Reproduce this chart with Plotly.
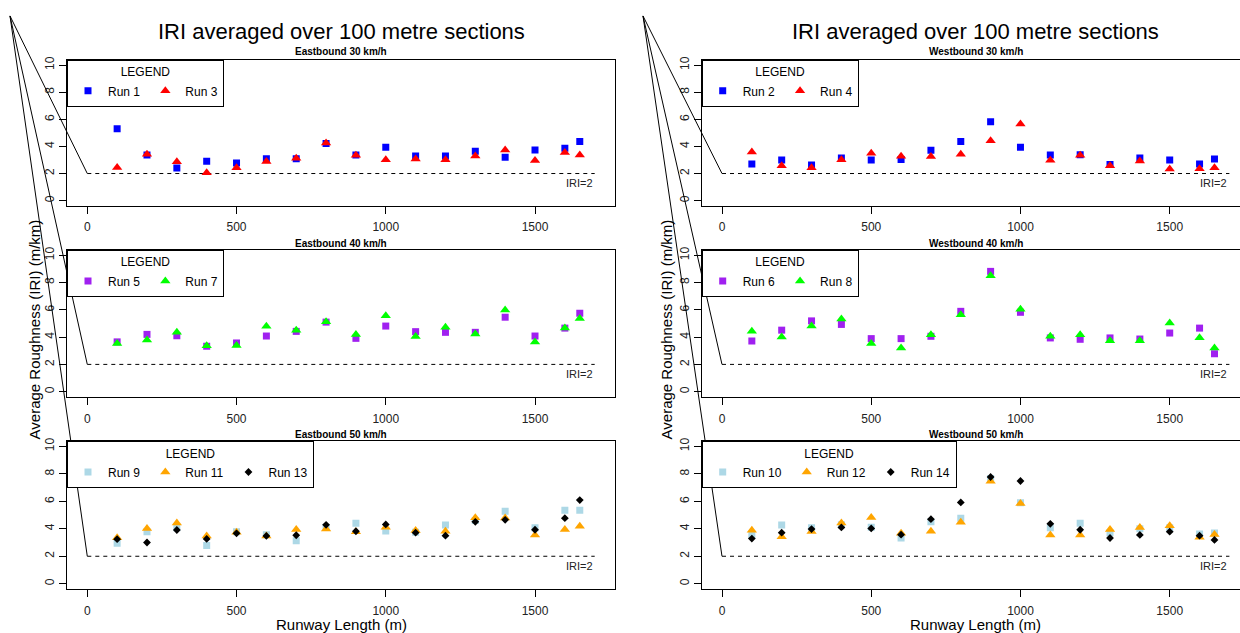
import plotly.graph_objects as go

# ---------------- data ----------------
SECTION_X = [100, 200, 300, 400, 500, 600, 700, 800, 900, 1000,
             1100, 1200, 1300, 1400, 1500, 1600, 1650]

E30_RUN1 = [5.31, 3.36, 2.41, 2.90, 2.78, 3.09, 3.09, 4.22, 3.36, 3.94, 3.29, 3.29, 3.65, 3.21, 3.74, 3.86, 4.37]
E30_RUN3 = [2.45, 3.42, 2.86, 2.06, 2.43, 2.89, 3.13, 4.26, 3.34, 3.01, 3.07, 3.01, 3.30, 3.73, 2.96, 3.56, 3.37]

W30_RUN2 = [2.70, 2.99, 2.63, 3.14, 2.99, 3.04, 3.72, 4.37, 5.82, 3.94, 3.36, 3.38, 2.66, 3.14, 2.99, 2.70, 3.07]
W30_RUN4 = [3.59, 2.57, 2.43, 3.01, 3.49, 3.27, 3.25, 3.42, 4.41, 5.66, 2.98, 3.34, 2.57, 2.93, 2.33, 2.35, 2.43]

E40_RUN5 = [3.65, 4.20, 4.10, 3.33, 3.57, 4.08, 4.42, 5.10, 3.91, 4.81, 4.40, 4.35, 4.35, 5.46, 4.08, 4.66, 5.75]
E40_RUN7 = [3.54, 3.78, 4.36, 3.37, 3.39, 4.80, 4.51, 5.13, 4.19, 5.57, 4.04, 4.72, 4.22, 5.98, 3.64, 4.67, 5.37]

W40_RUN6 = [3.72, 4.51, 5.19, 4.93, 3.89, 3.89, 4.06, 5.89, 8.82, 5.82, 3.94, 3.84, 3.94, 3.86, 4.30, 4.66, 2.78]
W40_RUN8 = [4.43, 4.00, 4.82, 5.33, 3.54, 3.20, 4.17, 5.64, 8.49, 6.05, 4.07, 4.17, 3.73, 3.73, 5.04, 3.95, 3.20]

E50_RUN9 = [2.95, 3.79, 4.08, 2.78, 3.79, 3.57, 3.12, 4.10, 4.41, 3.84, 3.74, 4.27, 4.60, 5.27, 4.08, 5.35, 5.35]
E50_RUN11 = [3.34, 4.02, 4.42, 3.47, 3.75, 3.47, 3.94, 3.99, 3.78, 4.11, 3.87, 3.82, 4.81, 4.78, 3.54, 3.94, 4.18]
E50_RUN13 = [3.24, 3.00, 3.91, 3.26, 3.67, 3.48, 3.53, 4.29, 3.82, 4.32, 3.72, 3.50, 4.51, 4.65, 3.93, 4.77, 6.09]

W50_RUN10 = [3.57, 4.27, 4.08, 4.30, 4.12, 3.33, 4.51, 4.77, 7.67, 5.90, 4.08, 4.41, 3.72, 4.00, 4.08, 3.62, 3.69]
W50_RUN12 = [3.90, 3.42, 3.80, 4.42, 4.83, 3.68, 3.82, 4.47, 7.47, 5.84, 3.54, 3.54, 3.94, 4.09, 4.23, 3.39, 3.59]
W50_RUN14 = [3.29, 3.72, 3.98, 4.10, 4.03, 3.57, 4.70, 5.92, 7.77, 7.48, 4.36, 3.93, 3.33, 3.55, 3.79, 3.50, 3.19]

PANEL_TITLES = ["Eastbound 30 km/h", "Westbound 30 km/h",
                "Eastbound 40 km/h", "Westbound 40 km/h",
                "Eastbound 50 km/h", "Westbound 50 km/h"]
MAIN_TITLE = "IRI averaged over 100 metre sections"
Y_LABEL = "Average Roughness (IRI) (m/km)"
X_LABEL = "Runway Length (m)"
X_TICKS = [0, 500, 1000, 1500]
Y_TICKS = [0, 2, 4, 6, 8, 10]
IRI_LIMIT = 2
IRI_LINE_X = [0, 1700]
IRI_TEXT = "IRI=2"

# (series name, values, style key) per panel
PANELS = [
    [("Run 1", E30_RUN1, "sq_blue"), ("Run 3", E30_RUN3, "tri_red")],
    [("Run 2", W30_RUN2, "sq_blue"), ("Run 4", W30_RUN4, "tri_red")],
    [("Run 5", E40_RUN5, "sq_purple"), ("Run 7", E40_RUN7, "tri_green")],
    [("Run 6", W40_RUN6, "sq_purple"), ("Run 8", W40_RUN8, "tri_green")],
    [("Run 9", E50_RUN9, "sq_lblue"), ("Run 11", E50_RUN11, "tri_orange"), ("Run 13", E50_RUN13, "dia_black")],
    [("Run 10", W50_RUN10, "sq_lblue"), ("Run 12", W50_RUN12, "tri_orange"), ("Run 14", W50_RUN14, "dia_black")],
]

# ---------------- styling / layout ----------------
W, H = 1240, 633
FONT = "Liberation Sans, Arial, Helvetica, sans-serif"

STYLES = {
    "sq_blue": dict(symbol="square", color="#0000FF", size=7),
    "tri_red": dict(symbol="triangle-up", color="#FF0000", size=9),
    "sq_purple": dict(symbol="square", color="#A020F0", size=7),
    "tri_green": dict(symbol="triangle-up", color="#00FF00", size=9),
    "sq_lblue": dict(symbol="square", color="#ADD8E6", size=7),
    "tri_orange": dict(symbol="triangle-up", color="#FFA500", size=9),
    "dia_black": dict(symbol="diamond", color="#000000", size=6),
}

X_SCALE = 548 / 1836.0          # px per data unit
X_RANGE_LEFT = [-68, 1768]
COL_PX = [(67, 615), (701.7, 1240)]
ROW_PX = [(57, 204), (248, 396), (440, 589)]
Y_RANGE = [-0.4, 10.4]
SUB_Y_PX = [49, 242, 434]
LINE_ORIGIN_PX = [(10, 13), (643, 13)]


def fx(px):
    return px / W


def fy(py):
    return 1 - py / H


fig = go.Figure()
layout_axes = {}
shapes = []
annotations = []
legends = {}

for i, series in enumerate(PANELS):
    col, row = i % 2, i // 2
    n = i + 1
    xs = "" if n == 1 else str(n)
    x0p, x1p = COL_PX[col]
    y0p, y1p = ROW_PX[row]
    xr = [X_RANGE_LEFT[0], X_RANGE_LEFT[0] + (x1p - x0p) / X_SCALE]
    xdom = [fx(x0p), fx(x1p)]
    ydom = [fy(y1p), fy(y0p)]
    leg = "legend" if n == 1 else "legend%d" % n

    # reference line IRI = 2
    fig.add_trace(go.Scatter(
        x=IRI_LINE_X, y=[IRI_LIMIT] * len(IRI_LINE_X), mode="lines",
        line=dict(color="black", width=1, dash="4px,4px"),
        showlegend=False, hoverinfo="skip",
        xaxis="x" + xs, yaxis="y" + xs))

    for name, vals, sk in series:
        st = STYLES[sk]
        fig.add_trace(go.Scatter(
            x=SECTION_X, y=vals, mode="markers", name=name,
            marker=dict(symbol=st["symbol"], color=st["color"], size=st["size"],
                        line=dict(width=0)),
            legend=leg, xaxis="x" + xs, yaxis="y" + xs))

    layout_axes["xaxis" + xs] = dict(
        domain=xdom, range=xr, anchor="y" + xs,
        showline=True, linecolor="black", linewidth=1, mirror=True,
        ticks="outside", ticklen=7, tickcolor="black", tickwidth=1,
        tickvals=X_TICKS, showgrid=False, zeroline=False,
        tickfont=dict(family=FONT, size=12, color="#222"),
        ticklabelstandoff=3, fixedrange=True)
    layout_axes["yaxis" + xs] = dict(
        domain=ydom, range=Y_RANGE, anchor="x" + xs,
        showline=True, linecolor="black", linewidth=1, mirror=(col == 0),
        ticks="outside", ticklen=7, tickcolor="black", tickwidth=1,
        tickvals=Y_TICKS, tickangle=-90, showgrid=False, zeroline=False,
        tickfont=dict(family=FONT, size=12, color="#222"),
        ticklabelstandoff=0, fixedrange=True)

    legends[leg] = dict(
        x=xdom[0], xanchor="left", y=ydom[1], yanchor="top",
        orientation="h", bgcolor="white", bordercolor="black", borderwidth=1,
        font=dict(family=FONT, size=12, color="black"),
        title=dict(text="LEGEND", side="top center",
                   font=dict(family=FONT, size=12, color="black")),
        tracegroupgap=0, itemwidth=30)

    # panel subtitle
    annotations.append(dict(
        text="<b>%s</b>" % PANEL_TITLES[i], xref="paper", yref="paper",
        x=(xdom[0] + fx(x0p + 548)) / 2, y=fy(SUB_Y_PX[row]),
        xanchor="center", yanchor="middle", showarrow=False,
        font=dict(family=FONT, size=10, color="black")))

    # IRI=2 label
    annotations.append(dict(
        text=IRI_TEXT, xref="x" + xs, yref="y" + xs, x=1700, y=1.3,
        xanchor="right", yanchor="middle", showarrow=False,
        font=dict(family=FONT, size=11, color="#222")))

    # artefact line from figure corner to the start of the reference line
    px0 = xdom[0] + (IRI_LINE_X[0] - xr[0]) / (xr[1] - xr[0]) * (xdom[1] - xdom[0])
    py0 = ydom[0] + (IRI_LIMIT - Y_RANGE[0]) / (Y_RANGE[1] - Y_RANGE[0]) * (ydom[1] - ydom[0])
    ox, oy = LINE_ORIGIN_PX[col]
    shapes.append(dict(type="line", xref="paper", yref="paper",
                       x0=fx(ox), y0=fy(oy), x1=px0, y1=py0,
                       line=dict(color="black", width=1)))

# column titles / axis labels
for col in range(2):
    x0p, _ = COL_PX[col]
    cx = fx(x0p + 548 / 2)
    annotations.append(dict(
        text=MAIN_TITLE, xref="paper", yref="paper", x=cx, y=fy(29),
        xanchor="center", yanchor="middle", showarrow=False,
        font=dict(family=FONT, size=22, color="black")))
    annotations.append(dict(
        text=X_LABEL, xref="paper", yref="paper", x=cx, y=fy(624),
        xanchor="center", yanchor="middle", showarrow=False,
        font=dict(family=FONT, size=15, color="black")))
    annotations.append(dict(
        text=Y_LABEL, xref="paper", yref="paper", x=fx(34 + col * 632), y=fy(328),
        xanchor="center", yanchor="middle", textangle=-90, showarrow=False,
        font=dict(family=FONT, size=15, color="black")))

fig.update_layout(
    width=W, height=H, margin=dict(l=0, r=0, t=0, b=0),
    paper_bgcolor="white", plot_bgcolor="white",
    font=dict(family=FONT, size=12, color="black"),
    shapes=shapes, annotations=annotations, hovermode=False,
    **layout_axes, **legends)

fig.write_html("out.html", config={"displayModeBar": False},
               post_script="document.body.style.margin='0';document.body.style.overflow='hidden';")
